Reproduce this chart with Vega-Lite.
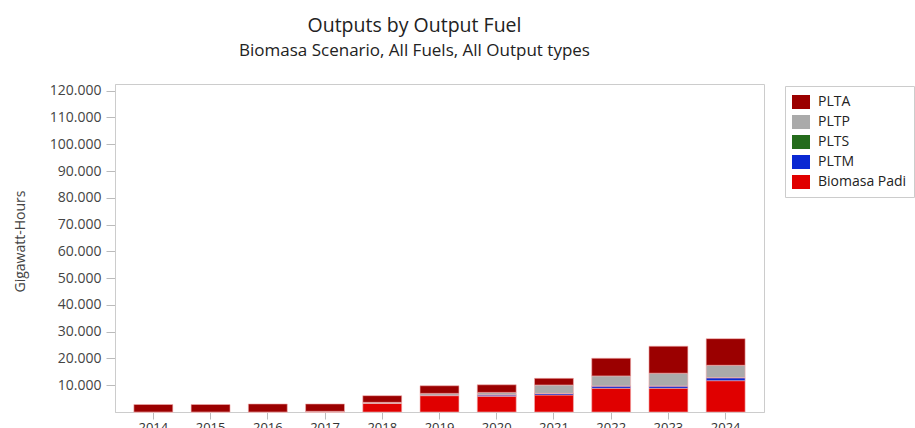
{
  "$schema": "https://vega.github.io/schema/vega-lite/v6.json",
  "width": 649,
  "height": 328,
  "autosize": "none",
  "padding": {"left": 115, "top": 84, "right": 151, "bottom": 16},
  "background": "white",
  "title": {
    "text": "Outputs by Output Fuel",
    "subtitle": "Biomasa Scenario, All Fuels, All Output types",
    "anchor": "middle",
    "dx": -25,
    "offset": 24,
    "font": "Open Sans",
    "fontSize": 19.5,
    "fontWeight": "normal",
    "color": "#222222",
    "subtitleFont": "Open Sans",
    "subtitleFontSize": 17,
    "subtitleColor": "#222222",
    "subtitlePadding": 6
  },
  "config": {
    "font": "Open Sans",
    "view": {"stroke": "#cccccc", "strokeWidth": 1}
  },
  "data": {
    "values": [
      {"year": "2014", "fuel": "Biomasa Padi", "gwh": 0},
      {"year": "2014", "fuel": "PLTA", "gwh": 2800},
      {"year": "2015", "fuel": "Biomasa Padi", "gwh": 0},
      {"year": "2015", "fuel": "PLTA", "gwh": 2800},
      {"year": "2016", "fuel": "Biomasa Padi", "gwh": 0},
      {"year": "2016", "fuel": "PLTA", "gwh": 3000},
      {"year": "2017", "fuel": "Biomasa Padi", "gwh": 0},
      {"year": "2017", "fuel": "PLTP", "gwh": 250},
      {"year": "2017", "fuel": "PLTA", "gwh": 2750},
      {"year": "2018", "fuel": "Biomasa Padi", "gwh": 3200},
      {"year": "2018", "fuel": "PLTP", "gwh": 400},
      {"year": "2018", "fuel": "PLTA", "gwh": 2500},
      {"year": "2019", "fuel": "Biomasa Padi", "gwh": 6100},
      {"year": "2019", "fuel": "PLTM", "gwh": 150},
      {"year": "2019", "fuel": "PLTP", "gwh": 700},
      {"year": "2019", "fuel": "PLTA", "gwh": 2850},
      {"year": "2020", "fuel": "Biomasa Padi", "gwh": 5850},
      {"year": "2020", "fuel": "PLTM", "gwh": 550},
      {"year": "2020", "fuel": "PLTS", "gwh": 20},
      {"year": "2020", "fuel": "PLTP", "gwh": 900},
      {"year": "2020", "fuel": "PLTA", "gwh": 2850},
      {"year": "2021", "fuel": "Biomasa Padi", "gwh": 6350},
      {"year": "2021", "fuel": "PLTM", "gwh": 600},
      {"year": "2021", "fuel": "PLTS", "gwh": 20},
      {"year": "2021", "fuel": "PLTP", "gwh": 3100},
      {"year": "2021", "fuel": "PLTA", "gwh": 2500},
      {"year": "2022", "fuel": "Biomasa Padi", "gwh": 8850},
      {"year": "2022", "fuel": "PLTM", "gwh": 850},
      {"year": "2022", "fuel": "PLTS", "gwh": 30},
      {"year": "2022", "fuel": "PLTP", "gwh": 3750},
      {"year": "2022", "fuel": "PLTA", "gwh": 6600},
      {"year": "2023", "fuel": "Biomasa Padi", "gwh": 8850},
      {"year": "2023", "fuel": "PLTM", "gwh": 850},
      {"year": "2023", "fuel": "PLTS", "gwh": 30},
      {"year": "2023", "fuel": "PLTP", "gwh": 4750},
      {"year": "2023", "fuel": "PLTA", "gwh": 10100},
      {"year": "2024", "fuel": "Biomasa Padi", "gwh": 11700},
      {"year": "2024", "fuel": "PLTM", "gwh": 1100},
      {"year": "2024", "fuel": "PLTS", "gwh": 40},
      {"year": "2024", "fuel": "PLTP", "gwh": 4600},
      {"year": "2024", "fuel": "PLTA", "gwh": 9950}
    ]
  },
  "transform": [
    {"calculate": "indexof(['Biomasa Padi','PLTM','PLTS','PLTP','PLTA'], datum.fuel)", "as": "stackRank"}
  ],
  "mark": {"type": "bar", "stroke": "#f4b0b0", "strokeWidth": 0.6},
  "encoding": {
    "x": {
      "field": "year",
      "type": "ordinal",
      "scale": {"paddingInner": 0.32, "paddingOuter": 0.33},
      "axis": {
        "title": null,
        "labelAngle": 0,
        "labelFontSize": 13,
        "labelColor": "#333333",
        "labelPadding": 2,
        "tickSize": 7,
        "tickColor": "#bbbbbb",
        "domainColor": "#cccccc"
      }
    },
    "y": {
      "field": "gwh",
      "type": "quantitative",
      "stack": "zero",
      "scale": {"domain": [0, 122500], "nice": false},
      "axis": {
        "title": "Gigawatt-Hours",
        "titleFontSize": 14,
        "titleFontWeight": "normal",
        "titleColor": "#444444",
        "titleX": -95,
        "titleY": 157,
        "titleAlign": "center",
        "titleBaseline": "middle",
        "values": [10000, 20000, 30000, 40000, 50000, 60000, 70000, 80000, 90000, 100000, 110000, 120000],
        "labelExpr": "replace(format(datum.value, ',.0f'), ',', '.')",
        "labelFontSize": 14,
        "labelColor": "#444444",
        "labelPadding": 5,
        "tickSize": 9,
        "tickColor": "#bbbbbb",
        "domainColor": "#cccccc",
        "grid": false
      }
    },
    "color": {
      "field": "fuel",
      "type": "nominal",
      "scale": {
        "domain": ["PLTA", "PLTP", "PLTS", "PLTM", "Biomasa Padi"],
        "range": ["#9b0000", "#aaaaaa", "#246b1c", "#0a28d2", "#e00000"]
      },
      "legend": {
        "title": null,
        "orient": "none",
        "legendX": 670,
        "legendY": 2,
        "symbolType": "M-1,-0.78H1V0.78H-1Z",
        "symbolSize": 324,
        "symbolStrokeWidth": 0,
        "symbolOpacity": 1,
        "labelFontSize": 14,
        "labelColor": "#222222",
        "labelOffset": 8,
        "rowPadding": 3,
        "padding": 7,
        "strokeColor": "#cccccc",
        "fillColor": "white"
      }
    },
    "order": {"field": "stackRank", "type": "quantitative", "sort": "ascending"}
  }
}
